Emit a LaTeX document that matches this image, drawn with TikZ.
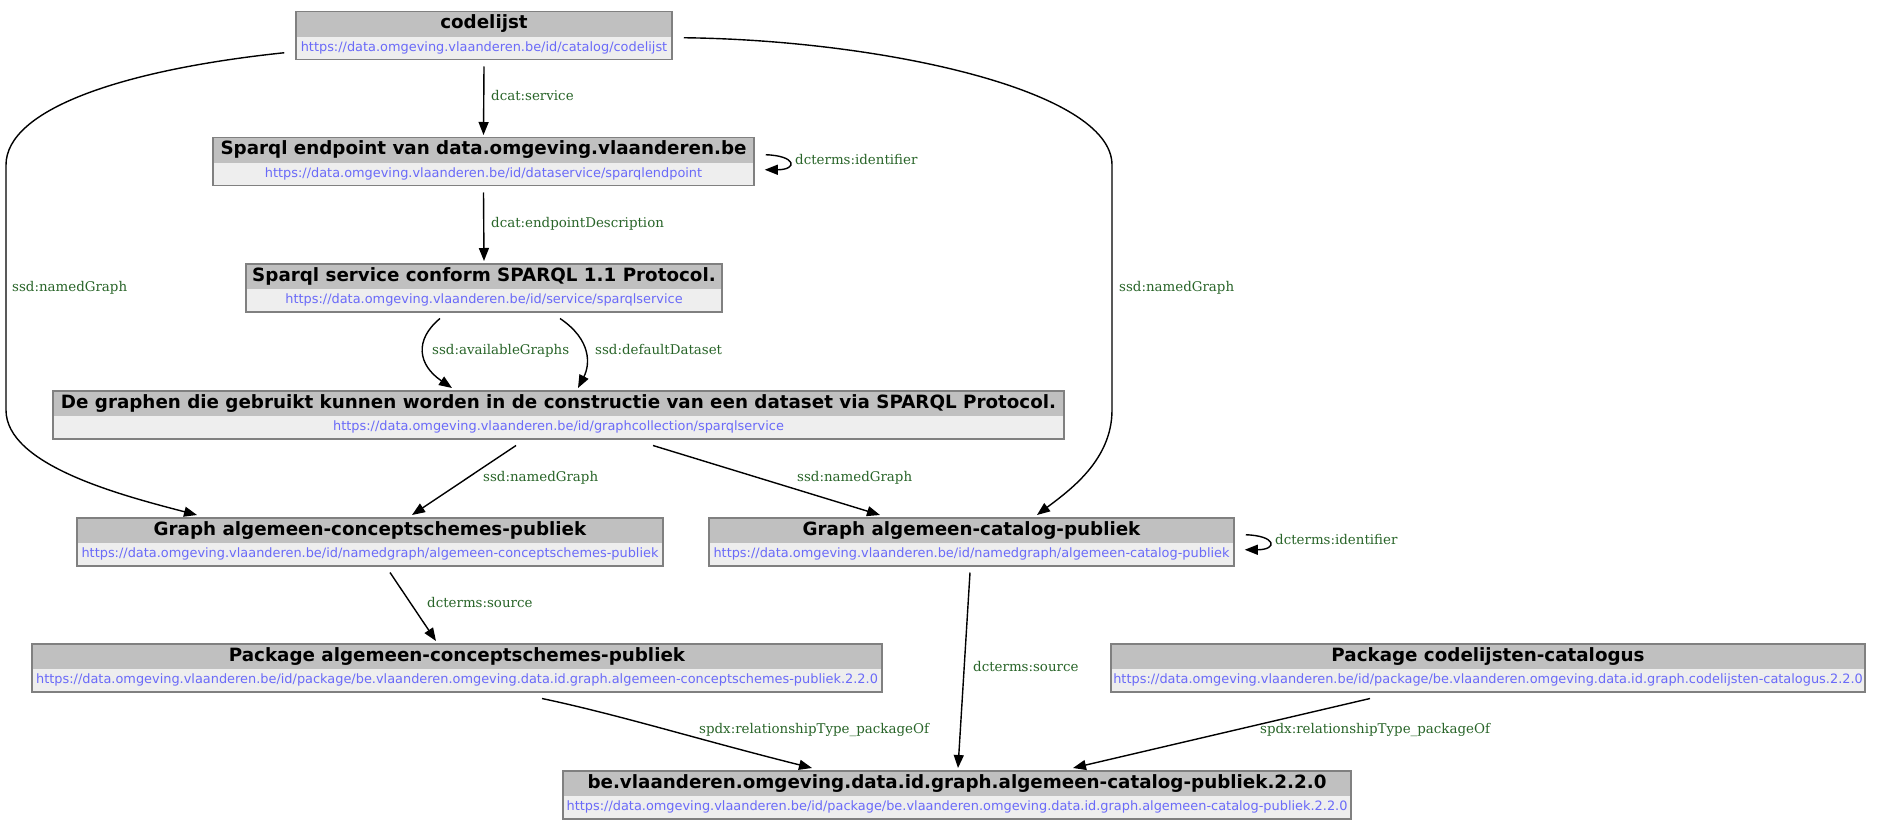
\documentclass[tikz,border=0pt]{standalone}
\usepackage{fontspec}
\usetikzlibrary{arrows.meta,calc}
\newfontfamily\sansfam{DejaVu Sans}
\newfontfamily\seriffam{DejaVu Serif}
\definecolor{titlebg}{HTML}{C0C0C0}
\definecolor{urlbg}{HTML}{EEEEEE}
\definecolor{boxline}{HTML}{808080}
\definecolor{urlcol}{HTML}{6A6AF8}
\definecolor{labcol}{RGB}{40,100,40}
\tikzset{
  gb/.style={draw=boxline, line width=1.5pt, fill=urlbg, inner sep=0pt, minimum height=48pt, anchor=north},
  ttext/.style={inner sep=0pt, anchor=base, font=\sansfam\bfseries\fontsize{18.3}{20}\selectfont},
  utext/.style={inner sep=0pt, anchor=base, text=urlcol, font=\sansfam\fontsize{12.9}{14}\selectfont},
  lab/.style={inner sep=0pt, anchor=base west, text=labcol, font=\seriffam\fontsize{13.4}{15}\selectfont},
  edge/.style={line width=1.4pt, -{Triangle[length=13pt,width=10pt]}},
}
\newcommand{\gbox}[6]{%
  \node[gb, minimum width=#4pt] (#1) at (#2,#3) {};
  \fill[titlebg] ([xshift=1.5pt,yshift=-1.5pt]#1.north west) rectangle ([xshift=-1.5pt,yshift=-26pt]#1.north east);
  \node[ttext] (#1-t) at ([yshift=-18pt]#1.north) {#5};
  \node[utext] (#1-u) at ([yshift=-40.5pt]#1.north) {#6};
}
\begin{document}
\begin{tikzpicture}[x=1pt,y=-1pt]
\useasboundingbox (0,0) rectangle (1884,829);
% boxes
\gbox{cl}{484}{11}{376}{codelijst}{https://data.omgeving.vlaanderen.be/id/catalog/codelijst}
\gbox{ep}{483.5}{137}{541}{Sparql endpoint van data.omgeving.vlaanderen.be}{https://data.omgeving.vlaanderen.be/id/dataservice/sparqlendpoint}
\gbox{sv}{484}{263}{476}{Sparql service conform SPARQL 1.1 Protocol.}{https://data.omgeving.vlaanderen.be/id/service/sparqlservice}
\gbox{gc}{558.5}{390}{1011}{De graphen die gebruikt kunnen worden in de constructie van een dataset via SPARQL Protocol.}{https://data.omgeving.vlaanderen.be/id/graphcollection/sparqlservice}
\gbox{gcs}{370}{517}{586}{Graph algemeen-conceptschemes-publiek}{https://data.omgeving.vlaanderen.be/id/namedgraph/algemeen-conceptschemes-publiek}
\gbox{gcat}{971.5}{517}{525}{Graph algemeen-catalog-publiek}{https://data.omgeving.vlaanderen.be/id/namedgraph/algemeen-catalog-publiek}
\gbox{pcs}{457}{643}{850}{Package algemeen-conceptschemes-publiek}{https://data.omgeving.vlaanderen.be/id/package/be.vlaanderen.omgeving.data.id.graph.algemeen-conceptschemes-publiek.2.2.0}
\gbox{pcl}{1488}{643}{754}{Package codelijsten-catalogus}{https://data.omgeving.vlaanderen.be/id/package/be.vlaanderen.omgeving.data.id.graph.codelijsten-catalogus.2.2.0}
\gbox{be}{957}{770}{788}{be.vlaanderen.omgeving.data.id.graph.algemeen-catalog-publiek.2.2.0}{https://data.omgeving.vlaanderen.be/id/package/be.vlaanderen.omgeving.data.id.graph.algemeen-catalog-publiek.2.2.0}
% edges
\draw[edge] ([yshift=-6pt]cl.south) -- ([yshift=2pt]ep.north);
\draw[edge] ([xshift=11pt,yshift=7pt]ep.east) .. controls +(31,1) and +(33,0) .. ([xshift=10pt,yshift=-8pt]ep.east);
\draw[edge] ([yshift=-6pt]ep.south) -- ([yshift=2pt]sv.north);
\draw[edge] ([xshift=-44pt,yshift=-6pt]sv.south) .. controls (414,340) and (418,365) .. ([xshift=-106.5pt,yshift=2pt]gc.north);
\draw[edge] ([xshift=76pt,yshift=-6pt]sv.south) .. controls (592,340) and (590,365) .. ([xshift=19.5pt,yshift=2pt]gc.north);
\draw[edge] ([xshift=-42.5pt,yshift=-6pt]gc.south) -- ([xshift=42pt,yshift=2pt]gcs.north);
\draw[edge] ([xshift=94.5pt,yshift=-6pt]gc.south) -- ([xshift=-91.5pt,yshift=2pt]gcat.north);
\draw[edge] ([xshift=-11pt,yshift=-17pt]cl.west) .. controls (120,70) and (6,110) .. (6,165) -- (6,410) .. controls (6,465) and (120,495) .. ([xshift=-173pt,yshift=2pt]gcs.north);
\draw[edge] ([xshift=11pt,yshift=-2pt]cl.east) .. controls (880,40) and (1112,90) .. (1112,165) -- (1112,410) .. controls (1112,460) and (1070,490) .. ([xshift=65.5pt,yshift=2pt]gcat.north);
\draw[edge] ([xshift=11pt,yshift=7pt]gcat.east) .. controls +(31,1) and +(33,0) .. ([xshift=10pt,yshift=-8pt]gcat.east);
\draw[edge] ([xshift=20pt,yshift=-6pt]gcs.south) -- ([xshift=-21pt,yshift=2pt]pcs.north);
\draw[edge] ([xshift=-1.5pt,yshift=-6pt]gcat.south) -- ([xshift=1pt,yshift=2pt]be.north);
\draw[edge] ([xshift=85pt,yshift=-6pt]pcs.south) .. controls (620,715) and (700,740) .. ([xshift=-145pt,yshift=2pt]be.north);
\draw[edge] ([xshift=-118pt,yshift=-6pt]pcl.south) -- ([xshift=116pt,yshift=2pt]be.north);
% labels
\node[lab] (l1) at (491,100.5) {dcat:service};
\node[lab] (l2) at (795,164.5) {dcterms:identifier};
\node[lab] (l3) at (491,227.5) {dcat:endpointDescription};
\node[lab] (l4) at (432,354.5) {ssd:availableGraphs};
\node[lab] (l5) at (595,354.5) {ssd:defaultDataset};
\node[lab] (l6) at (12,291.5) {ssd:namedGraph};
\node[lab] (l7) at (1119,291.5) {ssd:namedGraph};
\node[lab] (l8) at (483,481.5) {ssd:namedGraph};
\node[lab] (l9) at (797,481.5) {ssd:namedGraph};
\node[lab] (l10) at (1275,544.5) {dcterms:identifier};
\node[lab] (l11) at (427,607.5) {dcterms:source};
\node[lab] (l12) at (973,671.5) {dcterms:source};
\node[lab] (l13) at (699,733.5) {spdx:relationshipType\_packageOf};
\node[lab] (l14) at (1260,733.5) {spdx:relationshipType\_packageOf};
\end{tikzpicture}
\end{document}
